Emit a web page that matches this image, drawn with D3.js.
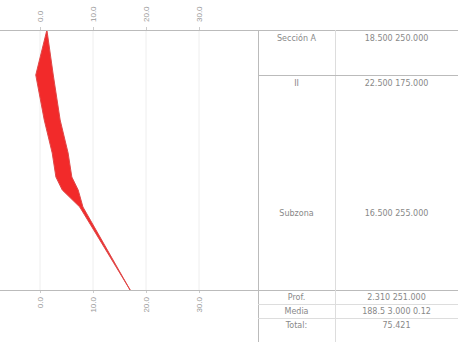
<!DOCTYPE html>
<html>
<head>
<meta charset="utf-8">
<script src="https://cdn.jsdelivr.net/npm/d3@7"></script>
<style>
  body { margin: 0; background: #fff; }
  svg { display: block; font-family: "DejaVu Sans", sans-serif; }
</style>
</head>
<body>
<script>
// tick values on the top / bottom axes
var xTicks = [0, 10, 20, 30];

// depth profile: lower and upper bound of the band
var depth = [0, 45, 90, 123, 147, 160, 177, 260];
var lowVal = [1.3, -0.8, 0.8, 2.3, 3.0, 4.2, 7.5, 17];
var highVal = [1.3, 2.5, 3.8, 5.3, 6.0, 7.2, 8.1, 17];

// table rows (depth from / to, label, value text)
var rowFrom = [0, 45];
var rowLabel = ["Sección A", "II"];
var rowText = ["18.500 250.000", "22.500 175.000"];
var midLabel = "Subzona";
var midText = "16.500 255.000";
var footLabel = ["Prof.", "Media", "Total:"];
var footText = ["2.310 251.000", "188.5 3.000 0.12", "75.421"];

var width = 458, height = 342;
var plot = {left: 0, right: 258, top: 30, bottom: 290};
var col2 = 335;

var svg = d3.select("body").append("svg")
  .attr("width", width)
  .attr("height", height);

var x = d3.scaleLinear().domain([-7.55, 41.13]).range([plot.left, plot.right]);
var y = d3.scaleLinear().domain([0, 260]).range([plot.top, plot.bottom]);

// faint vertical grid
svg.append("g").selectAll("line")
  .data(xTicks)
  .join("line")
  .attr("x1", d => x(d)).attr("x2", d => x(d))
  .attr("y1", plot.top).attr("y2", plot.bottom)
  .attr("stroke", "#eee")
  .attr("stroke-width", 1);

// top and bottom axes with rotated labels
var topAxis = d3.axisTop(x).tickValues(xTicks).tickSize(3).tickFormat(d3.format(".1f"));
var botAxis = d3.axisBottom(x).tickValues(xTicks).tickSize(3).tickFormat(d3.format(".1f"));

var gTop = svg.append("g")
  .attr("transform", "translate(0," + plot.top + ")")
  .call(topAxis);
gTop.selectAll("text")
  .attr("transform", "rotate(-90)")
  .attr("x", 8).attr("y", 0).attr("dy", "0.32em")
  .style("text-anchor", "start");

var gBot = svg.append("g")
  .attr("transform", "translate(0," + plot.bottom + ")")
  .call(botAxis);
gBot.selectAll("text")
  .attr("transform", "rotate(-90)")
  .attr("x", -7).attr("y", 0).attr("dy", "0.32em")
  .style("text-anchor", "end");

[gTop, gBot].forEach(function(g) {
  g.select(".domain").remove();
  g.selectAll("line").attr("stroke", "#ccc");
  g.selectAll("text").attr("fill", "#999").attr("font-size", 8);
});

// band
var band = depth.map((d, i) => ({d: d, lo: lowVal[i], hi: highVal[i]}));
var area = d3.area()
  .x0(p => x(p.lo))
  .x1(p => x(p.hi))
  .y(p => y(p.d))
  .curve(d3.curveLinear);

svg.append("path")
  .datum(band)
  .attr("d", area)
  .attr("fill", "#f22a2a")
  .attr("stroke", "#e04848")
  .attr("stroke-width", 1);

// frame lines
var frame = svg.append("g").attr("stroke", "#bbb").attr("stroke-width", 1);
frame.append("line").attr("x1", 0).attr("x2", width).attr("y1", plot.top + 0.5).attr("y2", plot.top + 0.5);
frame.append("line").attr("x1", 0).attr("x2", width).attr("y1", plot.bottom + 0.5).attr("y2", plot.bottom + 0.5);
frame.append("line").attr("x1", plot.right + 0.5).attr("x2", plot.right + 0.5).attr("y1", plot.top).attr("y2", height);
frame.append("line").attr("x1", col2 + 0.5).attr("x2", col2 + 0.5).attr("y1", plot.top).attr("y2", height)
  .attr("stroke", "#ddd");

// table rows
var rows = svg.append("g").attr("font-size", 8).attr("fill", "#888");
rowFrom.forEach(function(d, i) {
  if (i > 0) {
    frame.append("line")
      .attr("x1", plot.right).attr("x2", width)
      .attr("y1", Math.round(y(d)) + 0.5).attr("y2", Math.round(y(d)) + 0.5);
  }
  rows.append("text")
    .attr("x", (plot.right + col2) / 2).attr("y", y(d) + 11)
    .attr("text-anchor", "middle").text(rowLabel[i]);
  rows.append("text")
    .attr("x", (col2 + width) / 2).attr("y", y(d) + 11)
    .attr("text-anchor", "middle").text(rowText[i]);
});

rows.append("text")
  .attr("x", (plot.right + col2) / 2).attr("y", y(180) + 6)
  .attr("text-anchor", "middle").text(midLabel);
rows.append("text")
  .attr("x", (col2 + width) / 2).attr("y", y(180) + 6)
  .attr("text-anchor", "middle").text(midText);

// footer rows
var footY = [300, 314, 328];
footLabel.forEach(function(t, i) {
  rows.append("text")
    .attr("x", (plot.right + col2) / 2).attr("y", footY[i])
    .attr("text-anchor", "middle").text(t);
  rows.append("text")
    .attr("x", (col2 + width) / 2).attr("y", footY[i])
    .attr("text-anchor", "middle").text(footText[i]);
  if (i > 0) {
    frame.append("line")
      .attr("x1", plot.right).attr("x2", width)
      .attr("y1", footY[i] - 9.5).attr("y2", footY[i] - 9.5)
      .attr("stroke", "#ddd");
  }
});
</script>
</body>
</html>
